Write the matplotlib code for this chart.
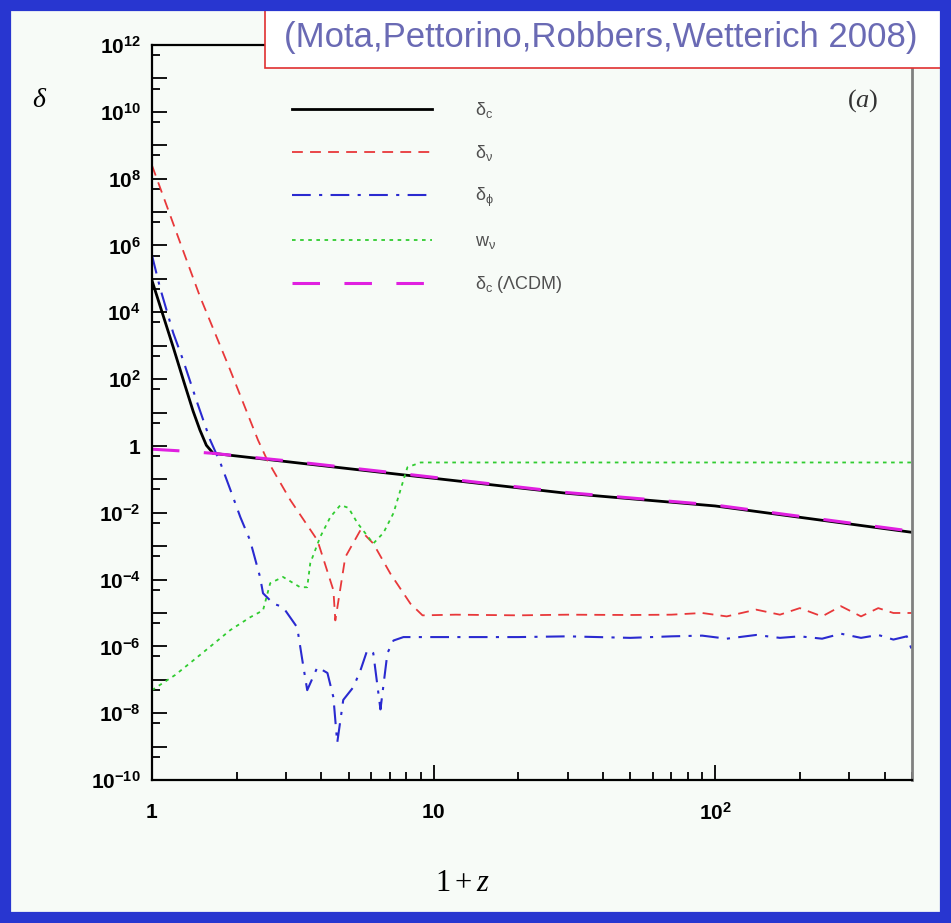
import matplotlib.pyplot as plt
import numpy as np
from matplotlib.patches import Rectangle
from matplotlib.ticker import FixedLocator, FuncFormatter, LogLocator, NullFormatter

plt.rcParams["mathtext.fontset"] = "custom"
plt.rcParams["mathtext.rm"] = "Liberation Serif"
plt.rcParams["mathtext.it"] = "Liberation Serif:italic"
plt.rcParams["mathtext.bf"] = "Liberation Sans:bold"
plt.rcParams["mathtext.sf"] = "Liberation Sans"

# delta_c (growing model)
x_c = [1.0, 1.1, 1.19, 1.3, 1.4, 1.48, 1.56, 1.65, 3.0, 7.6, 30, 100, 500]
y_c = [9e4, 7.2e3, 9e2, 8e1, 11, 3.0, 1.05, 0.6, 0.34, 0.14, 0.038, 0.016, 0.0026]

# delta_c in LCDM
x_l = [1.0, 1.3, 1.65, 3.0, 7.6, 30, 100, 500]
y_l = [0.8, 0.7, 0.6, 0.36, 0.15, 0.04, 0.017, 0.0028]

# delta_nu
x_nu = [1.0, 1.29, 1.48, 1.89, 2.38, 2.57, 3.1, 3.87, 4.41, 4.48, 4.86, 5.5, 6.11,
        7.03, 8.28, 9.14, 12, 20, 30, 50, 70, 90, 110, 140, 170, 200, 240, 280,
        330, 380, 430, 500]
y_nu = [2.5e8, 7e5, 3e4, 2e2, 1.5, 0.37, 0.024, 1.5e-3, 4.8e-5, 6e-6, 4.7e-4,
        3e-3, 1.2e-3, 1.5e-4, 1.9e-5, 8.5e-6, 8.9e-6, 8.5e-6, 8.9e-6, 8.7e-6,
        8.9e-6, 1e-5, 7.9e-6, 1.26e-5, 8.9e-6, 1.4e-5, 7.9e-6, 1.6e-5, 7.9e-6,
        1.4e-5, 1e-5, 1e-5]

# delta_phi
x_phi = [1.0, 1.067, 1.19, 1.29, 1.45, 1.61, 1.75, 1.9, 2.06, 2.23, 2.42, 2.48,
         2.7, 2.92, 3.28, 3.42, 3.56, 3.87, 4.2, 4.41, 4.55, 4.78, 5.19, 5.5,
         5.82, 6.11, 6.48, 6.86, 7.21, 7.82, 12, 20, 30, 50, 70, 90, 110, 140,
         170, 200, 240, 280, 330, 380, 430, 480, 500]
y_phi = [5.1e5, 5.6e4, 2.4e3, 3.7e2, 1.9e1, 1.5, 0.31, 0.048, 7.4e-3, 1.5e-3,
         1.2e-4, 3.9e-5, 1.9e-5, 1.5e-5, 3.7e-6, 3.9e-7, 4.9e-8, 2.4e-7, 1.6e-7,
         3e-8, 1.3e-9, 2.5e-8, 6e-8, 1.9e-7, 7.8e-7, 6.3e-7, 1.3e-8, 6.3e-7,
         1.5e-6, 1.9e-6, 1.9e-6, 1.9e-6, 2e-6, 1.8e-6, 2e-6, 2.1e-6, 1.7e-6,
         2.2e-6, 1.8e-6, 2e-6, 1.7e-6, 2.4e-6, 1.8e-6, 2.2e-6, 1.6e-6, 2e-6, 8e-7]

# w_nu
x_w = [1.0, 1.21, 1.48, 1.9, 2.23, 2.48, 2.63, 2.92, 3.36, 3.56, 3.65, 3.96, 4.3,
       4.67, 4.99, 5.37, 6.11, 6.64, 7.21, 7.82, 8.08, 9.0, 500]
y_w = [4.9e-8, 1.4e-7, 5.5e-7, 3.1e-6, 7.4e-6, 1.2e-5, 7.8e-5, 1.2e-4, 5.9e-5,
       5.9e-5, 3.1e-4, 1.9e-3, 7.4e-3, 0.017, 0.014, 4.9e-3, 1.2e-3, 2.5e-3,
       9.8e-3, 0.095, 0.23, 0.32, 0.32]

fig = plt.figure(figsize=(9.51, 9.23), dpi=100)
fig.patch.set_facecolor("#f7fbf7")
ax = fig.add_axes([0.1598, 0.1549, 0.799, 0.7963])
ax.set_facecolor("#f7fbf7")

ax.plot(x_c, y_c, color="black", lw=2.0, label=r"$\mathsf{\delta_c}$")
ax.plot(x_nu, y_nu, color="#e8383a", lw=1.3, ls=(0, (6, 4)), label=r"$\mathsf{\delta_\nu}$")
ax.plot(x_phi, y_phi, color="#2a2ad0", lw=1.5, ls=(0, (9, 4, 1.5, 4)), label=r"$\mathsf{\delta_\phi}$")
ax.plot(x_w, y_w, color="#30cc30", lw=1.3, ls=(0, (2, 2.5)), label=r"$\mathsf{w_\nu}$")
ax.plot(x_l, y_l, color="#e020e0", lw=2.2, ls=(0, (9, 8)), label=r"$\mathsf{\delta_c\ (\Lambda CDM)}$")

ax.set_xscale("log")
ax.set_yscale("log")
ax.set_xlim(1, 500)
ax.set_ylim(1e-10, 1e12)

ax.yaxis.set_major_locator(FixedLocator([10.0 ** e for e in range(-10, 13)]))
ax.yaxis.set_minor_locator(FixedLocator([5 * 10.0 ** e for e in range(-10, 12)]))


def ylab(v, pos):
    e = int(round(np.log10(v)))
    if e % 2:
        return ""
    if e == 0:
        return r"$\mathbf{1}$"
    return r"$\mathbf{10^{%d}}$" % e


def xlab(v, pos):
    e = int(round(np.log10(v)))
    if e == 0:
        return r"$\mathbf{1}$"
    if e == 1:
        return r"$\mathbf{10}$"
    return r"$\mathbf{10^{%d}}$" % e


ax.yaxis.set_major_formatter(FuncFormatter(ylab))
ax.yaxis.set_minor_formatter(NullFormatter())
ax.xaxis.set_major_locator(LogLocator(base=10))
ax.xaxis.set_minor_locator(LogLocator(base=10, subs=np.arange(2, 10)))
ax.xaxis.set_major_formatter(FuncFormatter(xlab))
ax.xaxis.set_minor_formatter(NullFormatter())

ax.tick_params(which="both", direction="in", top=False, right=False, labelsize=15, width=1.3)
ax.tick_params(axis="y", which="major", length=11, pad=8)
ax.tick_params(axis="y", which="minor", length=6)
ax.tick_params(axis="x", which="major", length=11, pad=16)
ax.tick_params(axis="x", which="minor", length=6)

for s in ["left", "bottom", "top"]:
    ax.spines[s].set_linewidth(1.6)
ax.spines["right"].set_color("#808080")
ax.spines["right"].set_linewidth(2.0)

ax.text(0.935, 0.925, r"$(a)$", transform=ax.transAxes, fontsize=19, color="#333333",
        ha="center", va="center")
fig.text(0.042, 0.893, r"$\delta$", fontsize=20, ha="center", va="center")
fig.text(0.486, 0.044, r"$1+z$", fontsize=22, ha="center", va="center")

leg = ax.legend(loc="upper left", bbox_to_anchor=(0.184, 0.925), frameon=False,
                fontsize=13, handlelength=7.75, handletextpad=2.4, labelspacing=1.27,
                borderpad=0, borderaxespad=0)
for t in leg.get_texts():
    t.set_color("#505050")

# citation box
fig.patches.append(Rectangle((0.2787, 0.9263), 0.715, 0.0683, transform=fig.transFigure,
                             facecolor="white", edgecolor="#e03030", lw=1.2, zorder=5))
fig.text(0.632, 0.959, "(Mota,Pettorino,Robbers,Wetterich 2008)", fontsize=25,
         family="Liberation Sans", color="#6a6ab4", ha="center", va="center", zorder=6)

# slide frame
fig.patches.append(Rectangle((0, 0), 1, 1, transform=fig.transFigure, facecolor="none",
                             edgecolor="#2836d0", lw=16, zorder=10))

fig.savefig("out.png", dpi=100, facecolor=fig.get_facecolor())
